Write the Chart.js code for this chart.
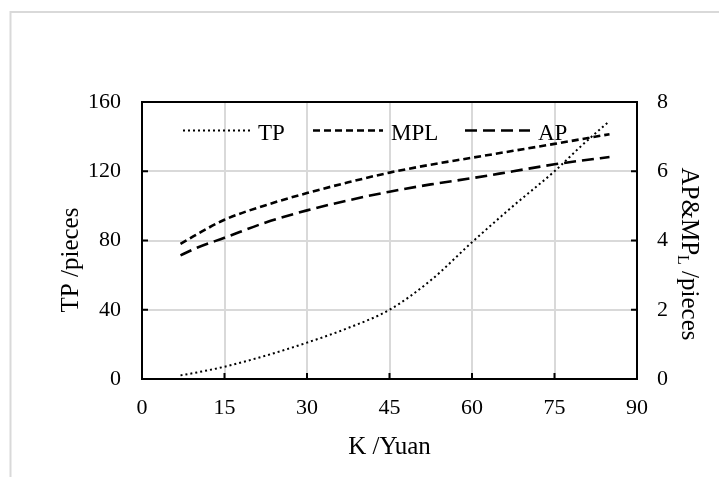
<!DOCTYPE html>
<html>
<head>
<meta charset="utf-8">
<script src="https://cdn.jsdelivr.net/npm/chart.js@4"></script>
<style>
html,body{margin:0;padding:0;background:#fff;}
#wrap{width:719px;height:477px;position:relative;}
</style>
</head>
<body>
<div id="wrap"><canvas id="c" width="719" height="477"></canvas></div>
<script>
// ---- data ----
const kValues  = [7, 10, 15, 22.5, 30, 37.5, 45, 52.5, 60, 67.5, 75, 80, 85];
const tpValues = [2.1, 3.8, 7.1, 13.5, 21, 29.5, 40, 57, 79, 100, 120, 135, 149];
const mplValues = [3.90, 4.18, 4.60, 5.02, 5.37, 5.68, 5.96, 6.19, 6.39, 6.59, 6.79, 6.93, 7.07];
const apValues  = [3.57, 3.79, 4.08, 4.52, 4.87, 5.16, 5.41, 5.62, 5.80, 6.00, 6.20, 6.31, 6.41];
const seriesNames = ['TP', 'MPL', 'AP'];
const xTicks = [0, 15, 30, 45, 60, 75, 90];
const yLeftTicks = [0, 40, 80, 120, 160];
const yRightTicks = [0, 2, 4, 6, 8];
const xTitle = 'K /Yuan';
const yLeftTitle = 'TP /pieces';
const yRightTitleParts = ['AP&MP', 'L', ' /pieces'];

const FONT = '"Liberation Serif", "Times New Roman", serif';
const toPts = (ys) => kValues.map((k, i) => ({x: k, y: ys[i]}));
const dashes = {TP: [2, 3], MPL: [7, 4], AP: [12, 6]};
const widths = {TP: 2, MPL: 2.6, AP: 2.6};

const framePlugin = {
  id: 'framePlugin',
  beforeDraw(chart) {
    const ctx = chart.ctx;
    ctx.save();
    ctx.fillStyle = '#fff';
    ctx.fillRect(0, 0, chart.width, chart.height);
    ctx.strokeStyle = '#d9d9d9';
    ctx.lineWidth = 2;
    ctx.beginPath();
    ctx.moveTo(10.5, chart.height);
    ctx.lineTo(10.5, 12);
    ctx.lineTo(chart.width, 12);
    ctx.stroke();
    ctx.restore();
  },
  afterDraw(chart) {
    const ctx = chart.ctx;
    const a = chart.chartArea;
    const sx = chart.scales.x, sy = chart.scales.y, sy1 = chart.scales.y1;
    ctx.save();
    // plot frame
    ctx.strokeStyle = '#000';
    ctx.lineWidth = 2;
    ctx.strokeRect(a.left, a.top, a.right - a.left, a.bottom - a.top);
    // inward tick marks
    const tl = 6;
    ctx.beginPath();
    yLeftTicks.forEach(v => { const p = sy.getPixelForValue(v); ctx.moveTo(a.left, p); ctx.lineTo(a.left + tl, p); });
    yRightTicks.forEach(v => { const p = sy1.getPixelForValue(v); ctx.moveTo(a.right, p); ctx.lineTo(a.right - tl, p); });
    xTicks.forEach(v => { const p = sx.getPixelForValue(v); ctx.moveTo(p, a.bottom); ctx.lineTo(p, a.bottom - tl); });
    ctx.stroke();

    // legend (inside the plot area)
    const legY = a.top + 28.5;
    const items = [
      {name: 'TP', x0: a.left + 41, len: 67},
      {name: 'MPL', x0: a.left + 171, len: 70},
      {name: 'AP', x0: a.left + 323, len: 65}
    ];
    ctx.font = '23px ' + FONT;
    ctx.fillStyle = '#000';
    ctx.textBaseline = 'alphabetic';
    ctx.textAlign = 'left';
    items.forEach(it => {
      ctx.beginPath();
      ctx.setLineDash(dashes[it.name]);
      ctx.lineWidth = widths[it.name];
      ctx.moveTo(it.x0, legY);
      ctx.lineTo(it.x0 + it.len, legY);
      ctx.stroke();
      ctx.setLineDash([]);
      ctx.fillText(it.name, it.x0 + it.len + 8, legY + 9);
    });

    // axis titles
    const big = '25px ' + FONT, small = '16px ' + FONT;
    ctx.font = big;
    ctx.textAlign = 'center';
    ctx.textBaseline = 'middle';
    ctx.fillText(xTitle, (a.left + a.right) / 2, 447);

    ctx.save();
    ctx.translate(71, 260);
    ctx.rotate(-Math.PI / 2);
    ctx.fillText(yLeftTitle, 0, 0);
    ctx.restore();

    // right title with subscript, rotated clockwise
    ctx.save();
    ctx.translate(689, 254);
    ctx.rotate(Math.PI / 2);
    ctx.textAlign = 'left';
    ctx.textBaseline = 'middle';
    ctx.font = big; const w1 = ctx.measureText(yRightTitleParts[0]).width;
    ctx.font = small; const w2 = ctx.measureText(yRightTitleParts[1]).width;
    ctx.font = big; const w3 = ctx.measureText(yRightTitleParts[2]).width;
    let x = -(w1 + w2 + w3) / 2;
    ctx.font = big; ctx.fillText(yRightTitleParts[0], x, 0); x += w1;
    ctx.font = small; ctx.fillText(yRightTitleParts[1], x, 7); x += w2;
    ctx.font = big; ctx.fillText(yRightTitleParts[2], x, 0);
    ctx.restore();

    ctx.restore();
  }
};

const tickFont = {family: FONT, size: 22};
const gridOpts = {color: '#d9d9d9', lineWidth: 2, drawTicks: false};

new Chart(document.getElementById('c'), {
  type: 'line',
  data: {
    datasets: [
      {label: seriesNames[0], data: toPts(tpValues), yAxisID: 'y',
       borderColor: '#000', borderWidth: widths.TP, borderDash: dashes.TP,
       pointRadius: 0, cubicInterpolationMode: 'monotone', fill: false},
      {label: seriesNames[1], data: toPts(mplValues), yAxisID: 'y1',
       borderColor: '#000', borderWidth: widths.MPL, borderDash: dashes.MPL,
       pointRadius: 0, cubicInterpolationMode: 'monotone', fill: false},
      {label: seriesNames[2], data: toPts(apValues), yAxisID: 'y1',
       borderColor: '#000', borderWidth: widths.AP, borderDash: dashes.AP,
       pointRadius: 0, cubicInterpolationMode: 'monotone', fill: false}
    ]
  },
  options: {
    responsive: false,
    animation: false,
    devicePixelRatio: 1,
    layout: {padding: {top: 102, left: 0, right: 0, bottom: 0}},
    plugins: {legend: {display: false}, tooltip: {enabled: false}},
    scales: {
      x: {
        type: 'linear', min: 0, max: 90,
        afterBuildTicks: s => { s.ticks = xTicks.map(v => ({value: v})); },
        ticks: {font: tickFont, color: '#000', padding: 16},
        grid: gridOpts, border: {display: false},
        afterFit: s => { s.height = 98; }
      },
      y: {
        position: 'left', min: 0, max: 160,
        afterBuildTicks: s => { s.ticks = yLeftTicks.map(v => ({value: v})); },
        ticks: {font: tickFont, color: '#000', padding: 21},
        grid: gridOpts, border: {display: false},
        afterFit: s => { s.width = 142; }
      },
      y1: {
        position: 'right', min: 0, max: 8,
        afterBuildTicks: s => { s.ticks = yRightTicks.map(v => ({value: v})); },
        ticks: {font: tickFont, color: '#000', padding: 20},
        grid: {display: false, drawTicks: false}, border: {display: false},
        afterFit: s => { s.width = 82; }
      }
    }
  },
  plugins: [framePlugin]
});
</script>
</body>
</html>
